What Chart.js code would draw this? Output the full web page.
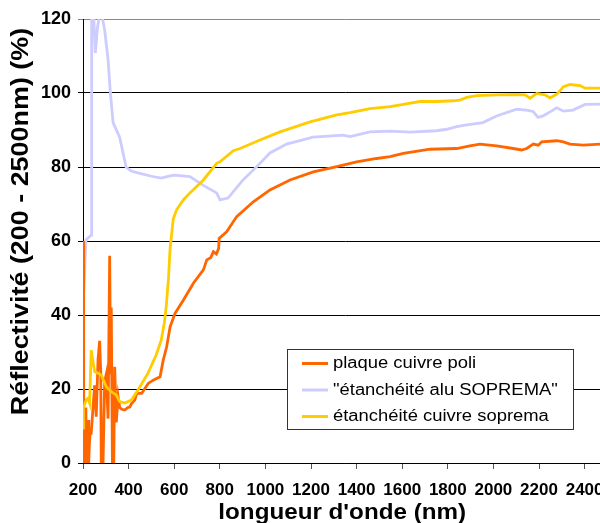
<!DOCTYPE html>
<html>
<head>
<meta charset="utf-8">
<script src="https://cdn.jsdelivr.net/npm/chart.js@4"></script>
<style>
html,body{margin:0;padding:0;overflow:hidden;background:#fff;}
#wrap{width:620px;height:523px;position:relative;}
</style>
</head>
<body>
<div id="wrap"><canvas id="c" width="620" height="523"></canvas></div>
<script>
// ---- data (wavelength nm, reflectivity %) ----
const seriesNames = ["plaque cuivre poli", "\"étanchéité alu SOPREMA\"", "étanchéité cuivre soprema"];
const seriesColors = ["#FF6600", "#CCCCFF", "#FFCC00"];
const xTitle = "longueur d'onde (nm)";
const yTitle = "Réflectivité (200 - 2500nm) (%)";

const xTickLabels = [200,400,600,800,1000,1200,1400,1600,1800,2000,2200,2400];
const yTickLabels = [0,20,40,60,80,100,120];

const plaqueCuivrePoli = [
 [200,60],[202,20],[204,0],[207,0],[210,0],[212,0],[213,15],[215,2],[218,0],[222,11.6],
 [225,0],[228,5],[231,8],[236,8],[244,15],[251,21],[258,12.5],[266,28],[273,33],[278,24],
 [280,0],[288,0],[295,22],[302,24],[310,12],[317,56],[321,24],[324,42],[329,0],[335,0],
 [339,26],[346,11],[354,18],[361,15],[370,14.5],[383,14.3],[397,15],[406,15.2],[412,16],[427,17],
 [436,18.8],[457,18.8],[486,21.5],[508,22.4],[538,23.3],[552,27.8],[567,31.4],[582,36.8],[604,40.5],[640,44],
 [684,48.6],[728,52.2],[743,54.9],[760,55.5],[772,57.1],[785,56.5],[795,58],[797,60.7],[830,62.5],[874,66.6],
 [947,70.6],[1020,73.8],[1108,76.5],[1210,78.7],[1313,80.1],[1400,81.4],[1488,82.3],[1547,82.8],[1605,83.7],[1722,84.8],
 [1839,85],[1897,85.7],[1941,86.2],[2014,85.7],[2087,85],[2124,84.6],[2146,85],[2175,86.2],[2197,85.9],[2212,86.8],
 [2278,87.1],[2307,86.8],[2336,86.2],[2394,85.9],[2468,86.2],[2500,86.2]
];

const etancheiteAlu = [
 [200,42],[213,60.3],[236,61.6],[238,130],[244,125],[254,110.8],[264,118],[273,121],[283,121],[295,117],
 [310,109],[320,100],[332,92],[361,88],[389,80],[411,78.9],[450,78.3],[500,77.5],[542,77],[582,77.6],
 [602,77.8],[669,77.4],[726,75.1],[786,73],[801,71.1],[836,71.6],[902,76.5],[962,80.1],[1020,83.8],[1093,86.2],
 [1209,88.1],[1340,88.6],[1371,88.2],[1459,89.5],[1547,89.7],[1634,89.4],[1751,89.8],[1795,90.2],[1839,90.9],[1883,91.4],
 [1954,92],[2014,93.8],[2102,95.6],[2146,95.4],[2174,95],[2196,93.4],[2218,93.8],[2278,96],[2307,95.1],[2349,95.4],
 [2402,96.9],[2468,97],[2500,97]
];

const etancheiteCuivre = [
 [200,9.4],[202,15],[214,17],[222,17.5],[229,16.2],[236,30.5],[251,24.7],[280,23.8],[302,20.6],[324,19.3],
 [346,18.4],[361,16.6],[383,16.2],[412,17],[441,19.7],[485,24.3],[521,29.2],[543,33.2],[557,38],[565,42.2],
 [575,50],[582,58],[589,62],[596,66],[611,68.5],[640,71.1],[669,73],[728,76.5],[786,81],[801,81.4],
 [859,84.4],[889,85],[976,87.3],[1064,89.5],[1196,92.2],[1313,94.1],[1371,94.7],[1459,95.8],[1547,96.3],[1605,96.9],
 [1678,97.7],[1751,97.7],[1824,97.9],[1853,98.1],[1883,98.8],[1927,99.3],[2014,99.5],[2102,99.6],[2139,99.5],[2161,98.6],
 [2190,99.9],[2226,99.5],[2248,98.7],[2278,99.7],[2292,100.6],[2307,101.7],[2336,102.3],[2380,102],[2402,101.3],[2468,101.3],
 [2500,101.3]
];

const seriesData = [plaqueCuivrePoli, etancheiteAlu, etancheiteCuivre];
const drawOrder = [1, 2, 0];

const FONT = "'Liberation Sans', Arial, sans-serif";

const boxLegend = {
  id: 'boxLegend',
  afterDatasetsDraw(chart) {
    const ctx = chart.ctx;
    const x0 = 287, y0 = 349, w = 286, h = 80;
    ctx.save();
    ctx.fillStyle = '#ffffff';
    ctx.fillRect(x0, y0, w, h);
    ctx.strokeStyle = '#333333';
    ctx.lineWidth = 1;
    ctx.strokeRect(x0 + 0.5, y0 + 0.5, w, h);
    chart.data.datasets.forEach((ds, i) => {
      const y = 363.5 + i * 26.5;
      ctx.strokeStyle = ds.borderColor;
      ctx.lineWidth = 3;
      ctx.beginPath();
      ctx.moveTo(302, y);
      ctx.lineTo(328, y);
      ctx.stroke();
      ctx.save();
      ctx.translate(333, y + 0.5);
      ctx.scale(1.15, 1);
      ctx.fillStyle = '#000';
      ctx.font = "16px " + FONT;
      ctx.textBaseline = 'middle';
      ctx.textAlign = 'left';
      ctx.fillText(ds.label, 0, 0);
      ctx.restore();
    });
    ctx.restore();
  }
};

// axis titles, drawn as text with the slightly wide lettering of the original
const axisTitles = {
  id: 'axisTitles',
  afterDraw(chart) {
    const ctx = chart.ctx;
    const a = chart.chartArea;
    ctx.save();
    ctx.fillStyle = '#000';
    ctx.textAlign = 'center';
    ctx.textBaseline = 'alphabetic';
    ctx.save();
    ctx.translate((a.left + a.right) / 2 - 3, 519);
    ctx.scale(1.10, 1);
    ctx.font = "bold 22px " + FONT;
    ctx.fillText(xTitle, 0, 0);
    ctx.restore();
    ctx.save();
    ctx.translate(27.5, (a.top + a.bottom) / 2 - 19.5);
    ctx.rotate(-Math.PI / 2);
    ctx.scale(1.17, 1);
    ctx.font = "bold 23px " + FONT;
    ctx.fillText(yTitle, 0, 0);
    ctx.restore();
    ctx.restore();
  }
};

new Chart(document.getElementById('c'), {
  type: 'line',
  data: {
    datasets: seriesData.map((pts, i) => ({
      label: seriesNames[i],
      data: pts.map(p => ({x: p[0], y: p[1]})),
      borderColor: seriesColors[i],
      backgroundColor: seriesColors[i],
      borderWidth: 2.8,
      pointRadius: 0,
      tension: 0,
      fill: false,
      order: drawOrder[i],
      clip: 0
    }))
  },
  options: {
    responsive: false,
    animation: false,
    layout: {padding: {left: 4, top: 19, right: 12.6, bottom: 0}},
    plugins: {legend: {display: false}, tooltip: {enabled: false}},
    scales: {
      x: {
        type: 'linear',
        min: 200, max: 2500,
        afterBuildTicks: s => { s.ticks = xTickLabels.map(v => ({value: v})); },
        afterFit: s => { s.height = 60; },
        ticks: {
          autoSkip: false, maxRotation: 0, padding: 13, color: '#000',
          callback: v => String(v),
          font: {family: FONT, size: 17, weight: 'bold', lineHeight: 1}
        },
        grid: {drawOnChartArea: false, drawTicks: true, tickLength: 6, color: '#555'},
        border: {color: '#000', width: 1},
        title: {display: false, text: xTitle}
      },
      y: {
        type: 'linear',
        min: 0, max: 120,
        afterBuildTicks: s => { s.ticks = yTickLabels.map(v => ({value: v})); },
        afterFit: s => { s.width = 79; },
        ticks: {
          padding: 7, color: '#000',
          callback: v => String(v),
          font: {family: FONT, size: 18, weight: 'bold'}
        },
        grid: {
          color: c => (c.tick && c.tick.value === 120) ? '#888' : '#000',
          lineWidth: 1, tickLength: 5
        },
        border: {color: '#000', width: 1},
        title: {display: false, text: yTitle}
      }
    }
  },
  plugins: [boxLegend, axisTitles]
});
</script>
</body>
</html>
